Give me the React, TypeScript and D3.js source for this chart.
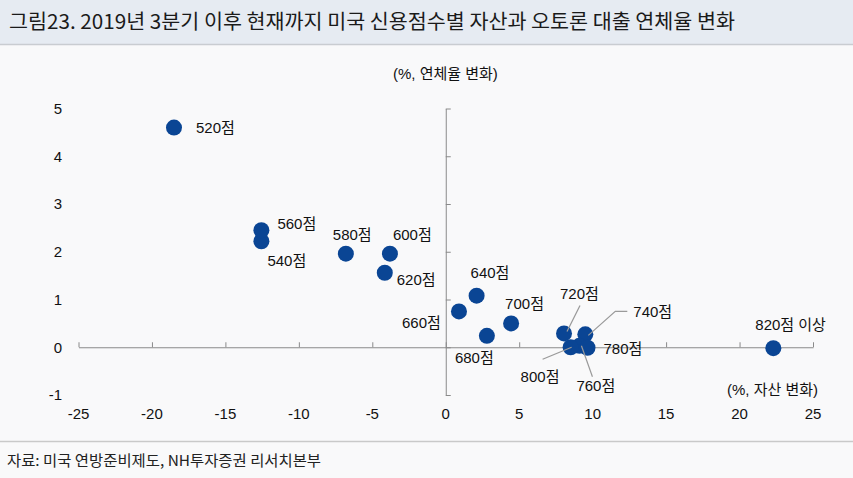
import React, { useEffect, useRef } from "react";
import * as d3 from "d3";

// 신용점수 구간
const grades = ["520점", "540점", "560점", "580점", "600점", "620점", "640점", "660점", "680점", "700점", "720점", "740점", "760점", "780점", "800점", "820점 이상"];
// 자산 변화 (%)
const assetChange = [-18.5, -12.55, -12.55, -6.8, -3.8, -4.15, 2.1, 0.9, 2.8, 4.45, 8.05, 9.5, 9.1, 9.65, 8.5, 22.3];
// 연체율 변화 (%p)
const delinquencyChange = [4.6, 2.22, 2.45, 1.96, 1.96, 1.56, 1.08, 0.75, 0.24, 0.5, 0.29, 0.27, 0.03, -0.01, 0.0, -0.02];

const xTicks = [-25, -20, -15, -10, -5, 0, 5, 10, 15, 20, 25];
const yTicks = [-1, 0, 1, 2, 3, 4, 5];

const title = "그림23. 2019년 3분기 이후 현재까지 미국 신용점수별 자산과 오토론 대출 연체율 변화";
const source = "자료: 미국 연방준비제도, NH투자증권 리서치본부";
const xTitle = "(%, 자산 변화)";
const yTitle = "(%, 연체율 변화)";

// 라벨 위치 (점 기준 오프셋, px)
const labelOffset: Record<string, [number, number]> = {
  "520점": [22, 0],
  "540점": [6, 20],
  "560점": [16, -7],
  "580점": [-13, -19],
  "600점": [3, -19],
  "620점": [12, 7],
  "640점": [-6, -23],
  "660점": [-57, 11],
  "680점": [-32, 22],
  "700점": [-6, -20],
  "720점": [-4, -40],
  "740점": [48, -23],
  "760점": [-3, 40],
  "780점": [16, 1],
  "800점": [-50, 29],
  "820점 이상": [-18, -23],
};

// 지시선 (점 기준 오프셋, px)
const leaders: Record<string, [number, number][]> = {
  "720점": [[16, -28], [3, -2]],
  "740점": [[42, -23], [30, -23], [3, 1]],
  "760점": [[13, 31], [2, 0]],
  "800점": [[-28, 12], [1, 0]],
};

const FONT = "'Liberation Sans', Arial, 'Noto Sans CJK KR', sans-serif";
const KFONT = "'Noto Sans CJK KR', 'Liberation Sans', sans-serif";

export default function App() {
  const ref = useRef<SVGSVGElement>(null);

  useEffect(() => {
    const svg = d3.select(ref.current);
    svg.selectAll("*").remove();
    const W = 853;
    const H = 478;

    svg.append("rect").attr("width", W).attr("height", H).attr("fill", "#f9f9fa");

    // 제목 영역
    svg.append("rect").attr("width", W).attr("height", 44).attr("fill", "#e6ebf2");
    svg.append("line").attr("x1", 0).attr("x2", W).attr("y1", 44.5).attr("y2", 44.5).attr("stroke", "#c9ccd1").attr("stroke-width", 1.5);
    svg
      .append("text")
      .attr("x", 9)
      .attr("y", 22)
      .attr("dy", "0.35em")
      .attr("font-family", KFONT)
      .attr("font-size", 20)
      .attr("fill", "#1a1a1a")
      .attr("textLength", 726)
      .attr("lengthAdjust", "spacingAndGlyphs")
      .text(title);

    const x = d3.scaleLinear().domain([-25, 25]).range([78.5, 813]);
    const y = d3.scaleLinear().domain([-1, 5]).range([395, 108.5]);

    // x축
    svg
      .append("g")
      .attr("transform", `translate(0,${y(0)})`)
      .call(d3.axisTop(x).tickValues(xTicks).tickSize(5).tickSizeOuter(0).tickFormat(() => ""))
      .call((g) => g.selectAll("line,path").attr("stroke", "#8a8a8a"));

    // y축
    svg
      .append("g")
      .attr("transform", `translate(${x(0)},0)`)
      .call(d3.axisRight(y).tickValues(yTicks).tickSize(5).tickSizeOuter(0).tickFormat(() => ""))
      .call((g) => g.selectAll("line,path").attr("stroke", "#8a8a8a"));

    // 눈금 라벨 (축 바깥쪽)
    svg
      .append("g")
      .selectAll("text")
      .data(xTicks)
      .enter()
      .append("text")
      .attr("x", (d) => x(d))
      .attr("y", 414)
      .attr("dy", "0.35em")
      .attr("text-anchor", "middle")
      .attr("font-family", FONT)
      .attr("font-size", 15)
      .attr("fill", "#111")
      .text((d) => String(d));

    svg
      .append("g")
      .selectAll("text")
      .data(yTicks)
      .enter()
      .append("text")
      .attr("x", 62)
      .attr("y", (d) => y(d))
      .attr("dy", "0.35em")
      .attr("text-anchor", "end")
      .attr("font-family", FONT)
      .attr("font-size", 15)
      .attr("fill", "#111")
      .text((d) => String(d));

    // 축 제목
    svg
      .append("text")
      .attr("x", 393)
      .attr("y", 74)
      .attr("dy", "0.35em")
      .attr("font-family", FONT)
      .attr("font-size", 15)
      .attr("fill", "#111")
      .text(yTitle);
    svg
      .append("text")
      .attr("x", 727)
      .attr("y", 390)
      .attr("dy", "0.35em")
      .attr("font-family", FONT)
      .attr("font-size", 15)
      .attr("fill", "#111")
      .text(xTitle);

    const pts = grades.map((g, i) => ({ g, px: x(assetChange[i]), py: y(delinquencyChange[i]) }));

    // 점
    svg
      .append("g")
      .selectAll("circle")
      .data(pts)
      .enter()
      .append("circle")
      .attr("cx", (d) => d.px)
      .attr("cy", (d) => d.py)
      .attr("r", 8)
      .attr("fill", "#0a4594");

    // 지시선
    const line = d3.line();
    pts
      .filter((d) => leaders[d.g])
      .forEach((d) => {
        svg
          .append("path")
          .attr("d", line(leaders[d.g].map(([dx, dy]) => [d.px + dx, d.py + dy]) as [number, number][]))
          .attr("fill", "none")
          .attr("stroke", "#9a9a9a")
          .attr("stroke-width", 1.2);
      });

    // 점 라벨
    svg
      .append("g")
      .selectAll("text")
      .data(pts)
      .enter()
      .append("text")
      .attr("x", (d) => d.px + labelOffset[d.g][0])
      .attr("y", (d) => d.py + labelOffset[d.g][1])
      .attr("dy", "0.35em")
      .attr("font-family", FONT)
      .attr("font-size", 15)
      .attr("fill", "#111")
      .text((d) => d.g);

    // 출처
    svg.append("line").attr("x1", 0).attr("x2", W).attr("y1", 441.5).attr("y2", 441.5).attr("stroke", "#c9c9c9").attr("stroke-width", 1.5);
    svg
      .append("text")
      .attr("x", 7)
      .attr("y", 461)
      .attr("dy", "0.35em")
      .attr("font-family", KFONT)
      .attr("font-size", 15)
      .attr("fill", "#222")
      .attr("textLength", 314)
      .attr("lengthAdjust", "spacingAndGlyphs")
      .text(source);
  }, []);

  return (
    <div style={{ position: "fixed", left: 0, top: 0 }}>
      <svg ref={ref} width={853} height={478} style={{ display: "block" }} />
    </div>
  );
}
